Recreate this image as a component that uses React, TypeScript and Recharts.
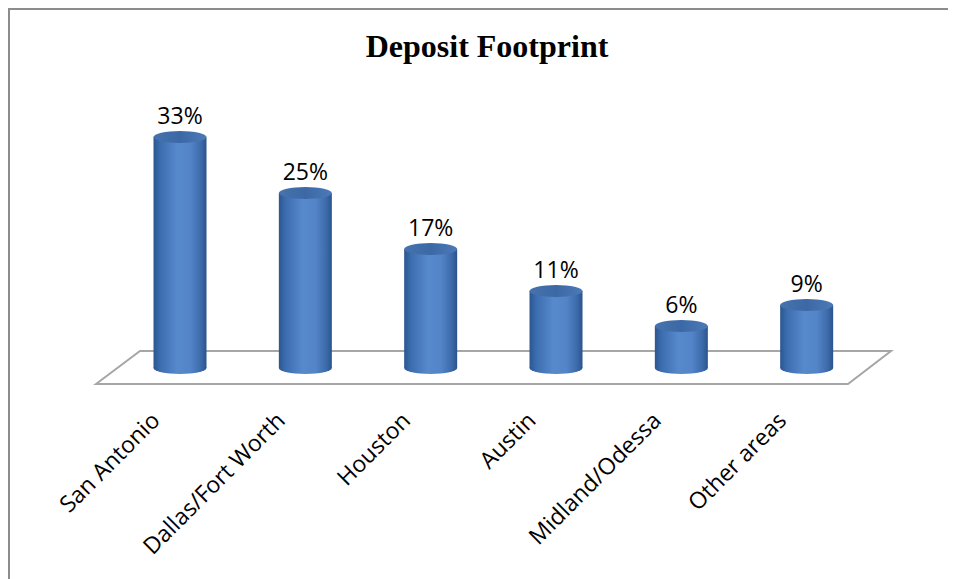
import React from "react";
import { BarChart, Bar, XAxis, YAxis, LabelList } from "recharts";

const categories = [
  "San Antonio",
  "Dallas/Fort Worth",
  "Houston",
  "Austin",
  "Midland/Odessa",
  "Other areas",
];
const shares = [33, 25, 17, 11, 6, 9];

const data = categories.map((name, i) => ({ name, share: shares[i] }));

const W = 948;
const H = 571;
const margin = { top: 115, right: 86.5, left: 109.5, bottom: 171 };
const xAxisHeight = 40;
const plotLeft = margin.left;
const plotRight = W - margin.right;
const plotBottom = H - margin.bottom - xAxisHeight;
const RY = 6;

const Cylinder = (props: any) => {
  const { x, y, width, height } = props;
  if (!width || height == null) return null;
  const cx = x + width / 2;
  const rx = width / 2;
  const base = y + height;
  return (
    <g>
      <rect x={x} y={y} width={width} height={height} fill="url(#cylBody)" />
      <ellipse cx={cx} cy={base} rx={rx} ry={RY} fill="url(#cylBody)" />
      <ellipse cx={cx} cy={y} rx={rx} ry={RY} fill="url(#cylTop)" />
    </g>
  );
};

const ValueLabel = (props: any) => {
  const { x, y, width, value } = props;
  return (
    <text
      x={x + width / 2}
      y={y - 13}
      textAnchor="middle"
      fontSize={23}
      fontFamily="'Open Sans', sans-serif"
      fill="#000"
    >
      {value}%
    </text>
  );
};

const CategoryTick = (props: any) => {
  const { x, y, payload } = props;
  return (
    <g transform={`translate(${x - 19},${y + 54})`}>
      <text
        transform="rotate(-45)"
        textAnchor="end"
        fontSize={23}
        fontFamily="'Open Sans', sans-serif"
        fill="#000"
      >
        {payload.value}
      </text>
    </g>
  );
};

// frame, title and the floor of the 3D plot, drawn under the chart
const Backdrop = () => {
  const front = plotBottom + 16;
  const back = plotBottom - 17;
  const pts = [
    [plotLeft - 21.5, front],
    [plotLeft + 22.5, back],
    [plotRight + 21.5, back],
    [plotRight - 21.5, front],
  ]
    .map((p) => p.join(","))
    .join(" ");
  return (
    <svg width={W} height={H} style={{ position: "absolute", left: 0, top: 0 }}>
      <line x1={1} y1={0} x2={1} y2={H} stroke="#8c8c8c" strokeWidth={2} />
      <line x1={0} y1={1} x2={W} y2={1} stroke="#8c8c8c" strokeWidth={2} />
      <text
        x={479}
        y={49}
        textAnchor="middle"
        fontSize={32}
        fontWeight="bold"
        fontFamily="'Liberation Serif', 'Times New Roman', serif"
        fill="#000"
      >
        Deposit Footprint
      </text>
      <polygon points={pts} fill="#fff" stroke="#a6a6a6" strokeWidth={2} />
    </svg>
  );
};

export default function App() {
  return (
    <div style={{ position: "relative", width: W, height: H }}>
      <Backdrop />
      <div style={{ position: "absolute", left: 0, top: 0 }}>
        <BarChart width={W} height={H} data={data} margin={margin}>
          <defs>
            <linearGradient id="cylBody" x1="0" y1="0" x2="1" y2="0">
              <stop offset="0%" stopColor="#2b5690" />
              <stop offset="12%" stopColor="#3b6cae" />
              <stop offset="45%" stopColor="#5789cd" />
              <stop offset="70%" stopColor="#5384c8" />
              <stop offset="90%" stopColor="#3c6aa9" />
              <stop offset="100%" stopColor="#2a538b" />
            </linearGradient>
            <linearGradient id="cylTop" x1="0" y1="0" x2="1" y2="0">
              <stop offset="0%" stopColor="#4672ad" />
              <stop offset="50%" stopColor="#3c69a5" />
              <stop offset="100%" stopColor="#4c7ab7" />
            </linearGradient>
          </defs>
          <XAxis
            dataKey="name"
            height={xAxisHeight}
            axisLine={false}
            tickLine={false}
            tickSize={0}
            tickMargin={0}
            interval={0}
            tick={<CategoryTick />}
          />
          <YAxis hide domain={[0, 35]} />
          <Bar
            dataKey="share"
            barSize={53}
            shape={<Cylinder />}
            isAnimationActive={false}
          >
            <LabelList dataKey="share" content={<ValueLabel />} />
          </Bar>
        </BarChart>
      </div>
    </div>
  );
}
